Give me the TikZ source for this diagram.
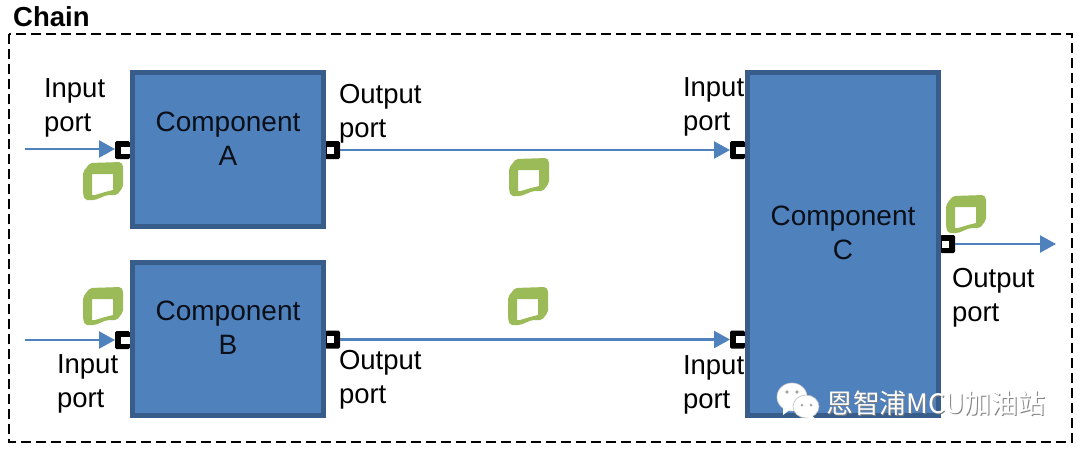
\documentclass[tikz,border=0pt]{standalone}
\usepackage{fontspec}
\setmainfont{Liberation Sans}
\newfontfamily\cjkfont{Noto Sans CJK SC}
\usetikzlibrary{arrows.meta}
\definecolor{boxfill}{HTML}{4F81BD}
\definecolor{boxedge}{HTML}{385D8A}
\definecolor{gluegreen}{HTML}{9BBB59}
\definecolor{inktext}{HTML}{0A0F18}
\tikzset{
  compbox/.style={draw=boxedge,fill=boxfill,line width=5pt,anchor=north west,inner sep=0pt,outer sep=0pt},
  comptext/.style={anchor=north,inner sep=0pt,align=center,text=inktext,font=\fontsize{28}{34}\selectfont},
  portbox/.style={fill=black,rounded corners=1.5pt,minimum width=15pt,minimum height=18pt,inner sep=0pt,outer sep=0pt},
  lab/.style={anchor=north west,inner sep=0pt,outer sep=0pt,align=left,text=black,font=\fontsize{27.5}{34}\selectfont},
  flow/.style={draw=boxfill,line width=2.4pt,-{Triangle[length=16pt,width=17pt]}},
  glue/.style={fill=gluegreen,draw=none,even odd rule,rounded corners=2pt},
  frameline/.style={draw=black,line width=2.6pt,dash pattern=on 10pt off 5pt},
  hole/.style={fill=white,inner sep=0pt,outer sep=0pt,minimum width=#1,minimum height=7pt}
}
\newcommand{\gluemark}[2]{%
  \fill[glue,shift={(#1,#2)}]
    (0,10) -- (7,1) -- (38,0) -- (40,3) -- (40,25) -- (34,33) -- (24,33) -- (12,38) -- (2,38) -- (0,32) -- cycle
    (9,12) [sharp corners] -- (30,12) -- (30,28) -- (22,30) -- (12,33) -- (9,33) -- cycle;}
\begin{document}
\begin{tikzpicture}[x=1pt,y=-1pt]
\useasboundingbox (0,0) rectangle (1080,451);
\fill[white] (0,0) rectangle (1080,451);
\draw[frameline] (9,34) rectangle (1072,442);
\node[anchor=base west,inner sep=0pt,font=\fontsize{27.5}{30}\selectfont\bfseries] (chain) at (13,26) {Chain};

% ports
\node[portbox] (ainp) at (122.5,150) {};
\node[portbox] (aout) at (332.5,150) {};
\node[portbox] (binp) at (122.5,340) {};
\node[portbox] (bout) at (332.5,339.5) {};
\node[portbox] (cina) at (737.5,150) {};
\node[portbox] (cinb) at (737.5,339.5) {};
\node[portbox] (cout) at (947.5,244) {};
\foreach \p in {ainp,binp,cina,cinb}{\node[hole=10pt] at ([xshift=3pt]\p.center) {};}
\foreach \p in {aout,bout,cout}{\node[hole=7pt] at ([xshift=-2pt]\p.center) {};}

% components
\node[compbox,minimum width=191pt,minimum height=154pt] (compA) at (132.5,72.5) {};
\node[compbox,minimum width=191pt,minimum height=153pt] (compB) at (132.5,262.5) {};
\node[compbox,minimum width=191pt,minimum height=343pt] (compC) at (747.5,72.5) {};
\node[comptext] (textA) at (228,112) {Component\\A};
\node[comptext] (textB) at (228,301) {Component\\B};
\node[comptext] (textC) at (843,206) {Component\\C};

% connectors
\coordinate (ainfree) at (25,149);
\coordinate (binfree) at (25,340);
\coordinate (coutfree) at (1056,244);
\draw[flow] (ainfree) -- (ainp.west |- ainfree);
\draw[flow] (binfree) -- (binp.west |- binfree);
\draw[flow] (aout.east) -- (cina.west);
\draw[flow] (bout.east) -- (cinb.west);
\draw[flow] (cout.east) -- (coutfree);

% port labels
\node[lab] (l1) at (44,79) {Input\\port};
\node[lab] (l2) at (339,84.5) {Output\\port};
\node[lab] (l3) at (683,78) {Input\\port};
\node[lab] (l4) at (57,355) {Input\\port};
\node[lab] (l5) at (339,350.5) {Output\\port};
\node[lab] (l6) at (683,356) {Input\\port};
\node[lab] (l7) at (952,268.5) {Output\\port};

% port markers
\gluemark{83}{162}
\gluemark{509}{158}
\gluemark{508}{287}
\gluemark{83}{287}
\gluemark{946}{195}

% watermark
\fill[white,draw=black!18,line width=0.6pt] (792,397) ellipse (15 and 14);
\fill[white] (783,406) -- (783,415) -- (791,409) -- cycle;
\fill[white,draw=black!25,line width=0.6pt] (806,406.5) ellipse (13 and 11.5);
\fill[white] (811,415) -- (816,419) -- (804,417) -- cycle;
\fill[black!35] (787,392) circle (1.8) (797,392) circle (1.8) (802,405) circle (1.5) (811,405) circle (1.5);
\node[anchor=base west,inner sep=0pt,text=black!50,font=\fontsize{26.8}{30}\cjkfont] (wms) at (827,414) {恩智浦MCU加油站};
\node[anchor=base west,inner sep=0pt,text=white,font=\fontsize{26.8}{30}\cjkfont] (wm) at (826,413) {恩智浦MCU加油站};
\end{tikzpicture}
\end{document}
